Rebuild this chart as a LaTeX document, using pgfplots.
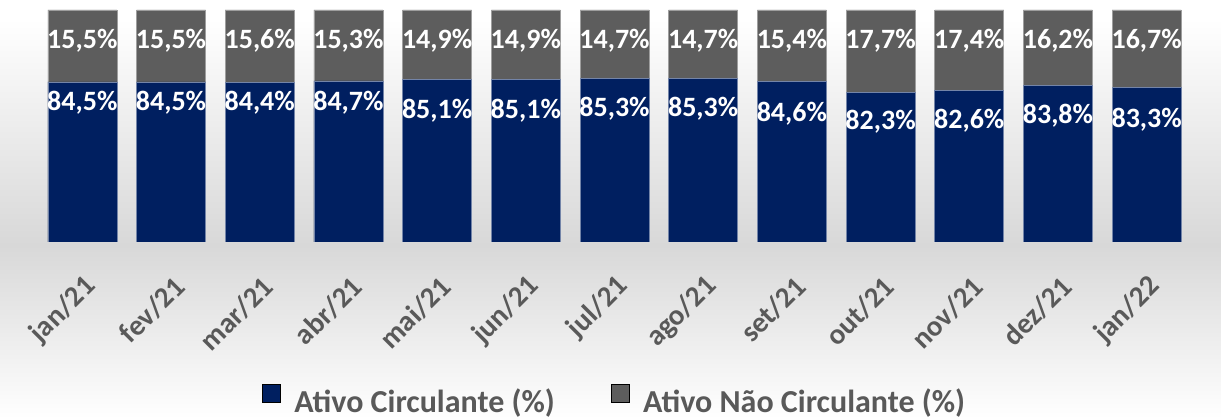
\documentclass[border=0pt]{standalone}
\usepackage{fontspec}
\setmainfont{Carlito}
\usepackage{pgfplots}
\usepackage{pgfplotstable}
\pgfplotsset{compat=1.18}
\definecolor{navy}{RGB}{0,31,96}
\definecolor{darkgrey}{RGB}{93,93,93}
\definecolor{txtgrey}{RGB}{89,89,89}
\definecolor{bgdark}{RGB}{216,216,216}

% x, ativo circulante, ativo nao circulante, label drop (pt) below the split
\pgfplotstableread{
x  ac    anc   off
0  84.5  15.5  29
1  84.5  15.5  29
2  84.4  15.6  28.6
3  84.7  15.3  30
4  85.1  14.9  38.9
5  85.1  14.9  38.9
6  85.3  14.7  38.5
7  85.3  14.7  38.5
8  84.6  15.4  40
9  82.3  17.7  37.2
10 82.6  17.4  37.6
11 83.8  16.2  38.1
12 83.3  16.7  40
}\data

\begin{document}
\begin{tikzpicture}
\useasboundingbox (0,0) rectangle (1221pt,419pt);
\shade[top color=white, bottom color=bgdark] (0,174pt) rectangle (1221pt,400pt);
\fill[white] (0,400pt) rectangle (1221pt,419pt);
\shade[top color=bgdark, bottom color=white] (0,0) rectangle (1221pt,174pt);
\begin{axis}[
  at={(38pt,177pt)}, anchor=south west,
  scale only axis, width=1153pt, height=232pt,
  xmin=-0.5, xmax=12.5, ymin=50, ymax=100,
  axis line style={draw=none},
  ytick=\empty,
  xtick={0,...,12},
  xticklabels={jan/21,fev/21,mar/21,abr/21,mai/21,jun/21,jul/21,ago/21,set/21,out/21,nov/21,dez/21,jan/22},
  xtick style={draw=none},
  x tick label style={xshift=9pt, yshift=-40pt, rotate=45, anchor=east, inner sep=0pt,
    font=\fontsize{29}{31}\selectfont\bfseries, text=txtgrey},
  /pgf/number format/assume math mode=true,
  legend style={at={(0.5,-0.681)}, anchor=center, draw=none, fill=none,
    font=\fontsize{32}{34}\selectfont\bfseries, text=txtgrey,
    /tikz/every odd column/.append style={column sep=12pt},
    /tikz/every even column/.append style={column sep=54pt}},
  legend columns=2,
  legend image code/.code={\fill[#1] (0pt,0pt) rectangle (18pt,18pt);},
  labelstyle/.style={only marks, mark=*,
    mark options={draw opacity=0, fill opacity=0},
    point meta=explicit, forget plot,
    nodes near coords={\pgfmathprintnumber[fixed,fixed zerofill,precision=1,use comma]{\pgfplotspointmeta}\%},
    every node near coord/.style={font=\fontsize{28}{30}\selectfont\bfseries,
      text=white, opacity=1, text opacity=1, inner sep=0pt, anchor=base, yshift=-#1}},
]
\addlegendimage{fill=navy}
\addlegendimage{fill=darkgrey}
% full bar (circulante + nao circulante) behind, circulante in front
\addplot[ybar, bar width=69pt, bar shift=0pt, fill=darkgrey,
  draw=darkgrey!60!white, line width=0.6pt, forget plot]
  table[x=x, y expr=\thisrow{ac}+\thisrow{anc}] {\data};
\addplot[ybar, bar width=69pt, bar shift=0pt, fill=navy,
  draw=navy!55!white, line width=0.6pt, forget plot]
  table[x=x, y=ac] {\data};
% labels
\addplot[labelstyle=39pt]
  table[x=x, y expr=\thisrow{ac}+\thisrow{anc}, meta=anc] {\data};
\addplot[labelstyle=\off pt, visualization depends on={\thisrow{off} \as \off}]
  table[x=x, y=ac, meta=ac] {\data};
\legend{Ativo Circulante (\%), Ativo Não Circulante (\%)}
\end{axis}
\end{tikzpicture}
\end{document}
